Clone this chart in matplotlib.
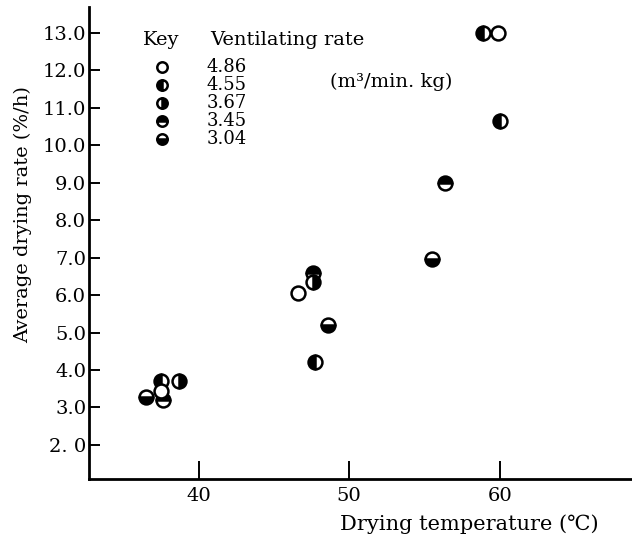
import matplotlib
matplotlib.use('Agg')
import matplotlib.pyplot as plt

plt.rcParams['font.family'] = ['DejaVu Serif', 'Noto Sans CJK JP']

# ventilating rate (m3/min.kg) -> marker fill style
RATES = ['4.86', '4.55', '3.67', '3.45', '3.04']
FILLS = ['none', 'left', 'right', 'top', 'bottom']

# drying temperature (C) / average drying rate (%/h) per ventilating rate
TEMP = {
    '4.86': [37.5, 46.6, 59.9],
    '4.55': [37.5, 47.7, 58.9, 60.0],
    '3.67': [38.7, 47.6],
    '3.45': [37.6, 47.6, 56.35],
    '3.04': [36.5, 48.6, 55.5],
}
RATE = {
    '4.86': [3.45, 6.05, 13.0],
    '4.55': [3.7, 4.2, 13.0, 10.65],
    '3.67': [3.7, 6.35],
    '3.45': [3.2, 6.6, 9.0],
    '3.04': [3.28, 5.2, 6.97],
}

XTICKS = [40, 50, 60]
YTICKS = [2, 3, 4, 5, 6, 7, 8, 9, 10, 11, 12, 13]
YTICKLABELS = ['2. 0', '3.0', '4.0', '5.0', '6.0', '7.0', '8.0', '9.0',
               '10.0', '11.0', '12.0', '13.0']


def marker_kw(fill, size):
    if fill == 'none':
        return dict(marker='o', markersize=size, markerfacecolor='white',
                    markeredgecolor='black', markeredgewidth=1.8)
    return dict(marker='o', markersize=size, fillstyle=fill,
                markerfacecolor='black', markerfacecoloralt='white',
                markeredgecolor='black', markeredgewidth=1.8)


fig = plt.figure(figsize=(6.32, 5.35), dpi=100)
ax = fig.add_axes([0.1408, 0.1047, 0.8592, 0.8823])

# draw open circles last so they sit on top, as in the original
order = ['3.04', '3.45', '3.67', '4.55', '4.86']
for z, key in enumerate(order):
    fill = FILLS[RATES.index(key)]
    ax.plot(TEMP[key], RATE[key], linestyle='none', zorder=3 + z,
            **marker_kw(fill, 10))

ax.set_xlim(32.7, 68.8)
ax.set_ylim(1.09, 13.69)

ax.set_xticks(XTICKS)
ax.set_yticks(YTICKS)
ax.set_yticklabels(YTICKLABELS)
ax.tick_params(axis='x', direction='in', length=13, width=1.4, labelsize=14, pad=6)
ax.tick_params(axis='y', direction='in', length=8, width=1.4, labelsize=14, pad=2)

for side in ('top', 'right'):
    ax.spines[side].set_visible(False)
for side in ('left', 'bottom'):
    ax.spines[side].set_linewidth(2.0)

ax.set_xlabel('Drying temperature (℃)', fontsize=15, labelpad=0)
ax.xaxis.set_label_coords(0.70, -0.075)
ax.set_ylabel('Average drying rate (%/h)', fontsize=14, labelpad=6)
ax.yaxis.set_label_coords(-0.105, 0.56)

# key
ax.text(0.099, 0.930, 'Key', transform=ax.transAxes, fontsize=14, va='center')
ax.text(0.223, 0.930, 'Ventilating rate', transform=ax.transAxes,
        fontsize=14, va='center')
ax.text(0.444, 0.841, '(m³/min. kg)', transform=ax.transAxes,
        fontsize=14, va='center')
key_y = [0.873, 0.835, 0.797, 0.759, 0.720]
for rate, fill, yy in zip(RATES, FILLS, key_y):
    ax.plot([0.134], [yy], transform=ax.transAxes, clip_on=False,
            linestyle='none', **marker_kw(fill, 7.5))
    ax.text(0.217, yy, rate, transform=ax.transAxes, fontsize=13, va='center')

fig.savefig('out.png', dpi=100)
